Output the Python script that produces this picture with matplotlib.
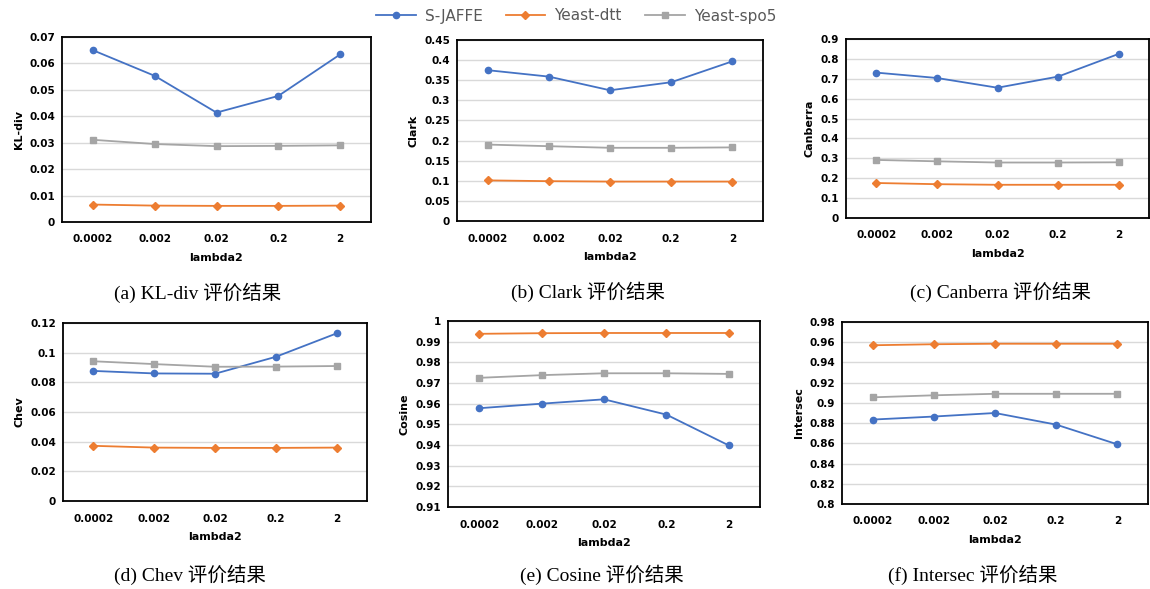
import matplotlib
matplotlib.use('Agg')
from matplotlib import pyplot as plt

lam = ['0.0002', '0.002', '0.02', '0.2', '2']
names = ['S-JAFFE', 'Yeast-dtt', 'Yeast-spo5']

kl_jaffe = [0.065, 0.0553, 0.0414, 0.0477, 0.0634]
kl_dtt = [0.0066, 0.0062, 0.0061, 0.0061, 0.0062]
kl_spo5 = [0.0311, 0.0295, 0.0287, 0.0288, 0.029]

clark_jaffe = [0.375, 0.359, 0.325, 0.345, 0.397]
clark_dtt = [0.101, 0.099, 0.098, 0.098, 0.098]
clark_spo5 = [0.190, 0.186, 0.182, 0.182, 0.183]

canb_jaffe = [0.731, 0.704, 0.655, 0.711, 0.825]
canb_dtt = [0.176, 0.170, 0.167, 0.167, 0.167]
canb_spo5 = [0.292, 0.285, 0.279, 0.279, 0.280]

chev_jaffe = [0.0877, 0.086, 0.0858, 0.0972, 0.113]
chev_dtt = [0.0372, 0.036, 0.0358, 0.0358, 0.036]
chev_spo5 = [0.0942, 0.0923, 0.0905, 0.0906, 0.091]

cos_jaffe = [0.9578, 0.960, 0.9621, 0.9547, 0.9398]
cos_dtt = [0.9938, 0.9941, 0.9942, 0.9942, 0.9942]
cos_spo5 = [0.9725, 0.9738, 0.9747, 0.9747, 0.9744]

inter_jaffe = [0.8835, 0.8865, 0.890, 0.8785, 0.859]
inter_dtt = [0.957, 0.958, 0.9585, 0.9585, 0.9585]
inter_spo5 = [0.9055, 0.9075, 0.909, 0.909, 0.909]

colors = ['#4472C4', '#ED7D31', '#A5A5A5']
markers = ['o', 'D', 's']
msizes = [4.5, 4.5, 4.5]

W, H = 1150, 589

# panel: (series, ylabel, caption, ylim, yticks, ticklabels, pixel box l,t,r,b, caption xy)
panels = [
    ([kl_jaffe, kl_dtt, kl_spo5], 'KL-div', '(a) KL-div 评价结果',
     (0, 0.07), [0, 0.01, 0.02, 0.03, 0.04, 0.05, 0.06, 0.07],
     ['0', '0.01', '0.02', '0.03', '0.04', '0.05', '0.06', '0.07'],
     (62, 37, 371, 222), (198, 293)),
    ([clark_jaffe, clark_dtt, clark_spo5], 'Clark', '(b) Clark 评价结果',
     (0, 0.45), [0, 0.05, 0.1, 0.15, 0.2, 0.25, 0.3, 0.35, 0.4, 0.45],
     ['0', '0.05', '0.1', '0.15', '0.2', '0.25', '0.3', '0.35', '0.4', '0.45'],
     (457, 40, 763, 221), (588, 292)),
    ([canb_jaffe, canb_dtt, canb_spo5], 'Canberra', '(c) Canberra 评价结果',
     (0, 0.9), [0, 0.1, 0.2, 0.3, 0.4, 0.5, 0.6, 0.7, 0.8, 0.9],
     ['0', '0.1', '0.2', '0.3', '0.4', '0.5', '0.6', '0.7', '0.8', '0.9'],
     (846, 39, 1149, 218), (1000, 292)),
    ([chev_jaffe, chev_dtt, chev_spo5], 'Chev', '(d) Chev 评价结果',
     (0, 0.12), [0, 0.02, 0.04, 0.06, 0.08, 0.1, 0.12],
     ['0', '0.02', '0.04', '0.06', '0.08', '0.1', '0.12'],
     (63, 323, 367, 501), (190, 575)),
    ([cos_jaffe, cos_dtt, cos_spo5], 'Cosine', '(e) Cosine 评价结果',
     (0.91, 1.0), [0.91, 0.92, 0.93, 0.94, 0.95, 0.96, 0.97, 0.98, 0.99, 1.0],
     ['0.91', '0.92', '0.93', '0.94', '0.95', '0.96', '0.97', '0.98', '0.99', '1'],
     (448, 321, 760, 507), (602, 575)),
    ([inter_jaffe, inter_dtt, inter_spo5], 'Intersec', '(f) Intersec 评价结果',
     (0.8, 0.98), [0.8, 0.82, 0.84, 0.86, 0.88, 0.9, 0.92, 0.94, 0.96, 0.98],
     ['0.8', '0.82', '0.84', '0.86', '0.88', '0.9', '0.92', '0.94', '0.96', '0.98'],
     (842, 322, 1148, 504), (973, 575)),
]

fig = plt.figure(figsize=(W / 100, H / 100), dpi=100)
tick_font = dict(family='DejaVu Sans', size=7.5, weight='bold')
handles = []
for series, ylab, cap, ylim, yt, ytl, box, cxy in panels:
    l, t, r, b = box
    ax = fig.add_axes([l / W, 1 - b / H, (r - l) / W, (b - t) / H])
    x = list(range(len(lam)))
    hs = []
    for k in range(3):
        h, = ax.plot(x, series[k], color=colors[k], marker=markers[k],
                     markersize=msizes[k], linewidth=1.3, label=names[k])
        hs.append(h)
    handles = hs
    ax.set_xlim(-0.5, 4.5)
    ax.set_ylim(*ylim)
    ax.set_yticks(yt)
    ax.set_yticklabels(ytl, fontdict=tick_font)
    ax.set_xticks(x)
    ax.set_xticklabels(lam, fontdict=tick_font)
    ax.tick_params(length=0, pad=5)
    ax.tick_params(axis='x', pad=9)
    ax.yaxis.grid(True, color='#D9D9D9', linewidth=1)
    ax.set_axisbelow(True)
    for s in ax.spines.values():
        s.set_color('black')
        s.set_linewidth(1.3)
    ax.set_ylabel(ylab, fontsize=8, fontweight='bold', family='DejaVu Sans')
    ax.set_xlabel('lambda2', fontsize=8, fontweight='bold', family='DejaVu Sans', labelpad=6)
    fig.text(cxy[0] / W, 1 - cxy[1] / H, cap, ha='center', va='center',
             family=['Liberation Serif', 'Noto Sans CJK SC'], size=14)

fig.legend(handles=handles, loc='center', bbox_to_anchor=(576 / W, 1 - 16 / H), ncol=3,
           frameon=False, handlelength=2.6, columnspacing=1.5, handletextpad=0.6,
           prop={'family': 'DejaVu Sans', 'size': 11})
for txt in fig.legends[0].get_texts():
    txt.set_color('#595959')

fig.savefig('out.png', dpi=100)
